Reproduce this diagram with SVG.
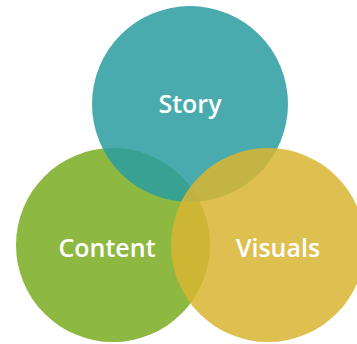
<svg xmlns="http://www.w3.org/2000/svg" width="357" height="344" viewBox="0 0 357 344">
<style>
.c{fill-opacity:0.85}
.t{font-family:"Open Sans",Lato,sans-serif;font-weight:600;font-size:25px;fill:#ffffff;text-anchor:middle}
</style>
<rect width="357" height="344" fill="#ffffff"/>
<g id="content"><circle cx="113" cy="245" r="97" fill="#8DB841"/></g>
<g id="story"><circle class="c" cx="190" cy="104" r="98" fill="#2A9CA0"/></g>
<g id="visuals"><circle class="c" cx="268" cy="245" r="97" fill="#D8B531"/></g>
<g id="connectors"></g>
<text class="t" x="190" y="113">Story</text>
<text class="t" x="107" y="257">Content</text>
<text class="t" x="278" y="257">Visuals</text>
</svg>
